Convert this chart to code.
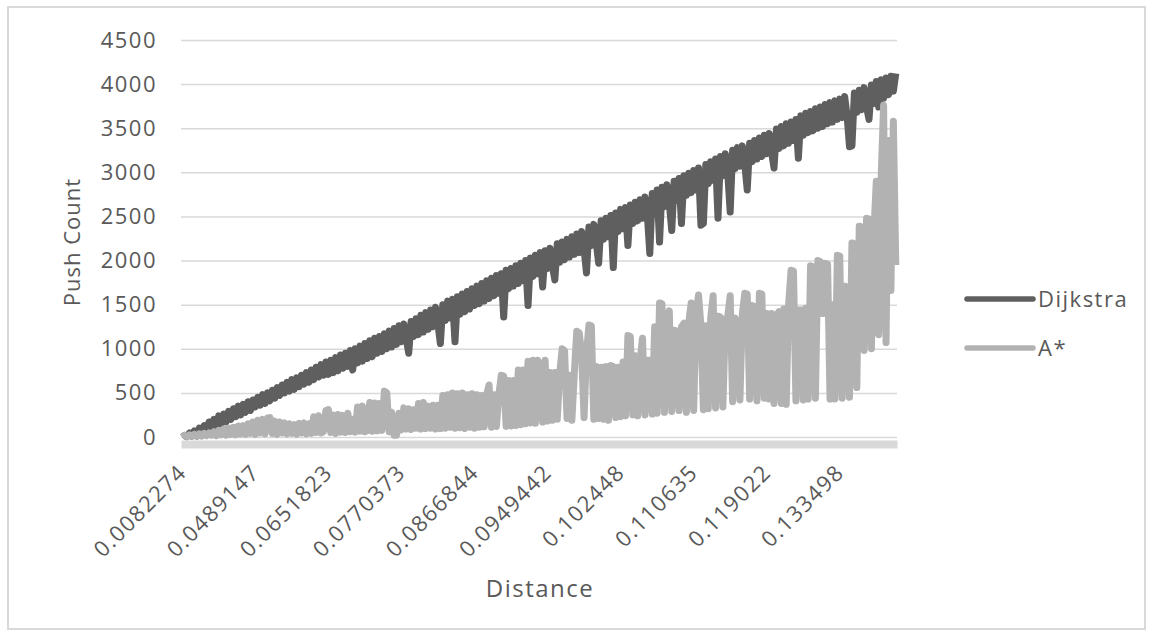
<!DOCTYPE html>
<html>
<head>
<meta charset="utf-8">
<script src="https://cdn.jsdelivr.net/npm/d3@7"></script>
<style>
  body { margin: 0; background: #fff; }
  text { font-family: 'Open Sans', sans-serif; fill: #595959; }
</style>
</head>
<body>
<div id="chart"></div>
<script>
// Category axis labels (shown every 30th distance)
const categoryLabels = ['0.0082274', '0.0489147', '0.0651823', '0.0770373', '0.0866844',
  '0.0949442', '0.102448', '0.110635', '0.119022', '0.133498'];
const labelEvery = 30;
const yTicks = [0, 500, 1000, 1500, 2000, 2500, 3000, 3500, 4000, 4500];

// Push counts
const dijkstra = [
  0, 20, 5, 45, 10, 70, 20, 100, 40, 130,
  60, 170, 90, 200, 110, 240, 150, 260, 170, 290,
  200, 320, 230, 350, 250, 370, 280, 400, 300, 420,
  340, 450, 360, 480, 380, 500, 410, 530, 440, 560,
  470, 590, 500, 620, 520, 650, 540, 670, 570, 700,
  600, 730, 620, 760, 650, 790, 680, 820, 700, 850,
  710, 870, 730, 900, 750, 930, 780, 950, 800, 980,
  760, 1000, 840, 1030, 860, 1060, 890, 1090, 910, 1120,
  950, 1140, 970, 1170, 1000, 1200, 1020, 1230, 1050, 1260,
  1080, 1280, 1110, 950, 1310, 1140, 1340, 1160, 1380, 1190,
  1410, 1220, 1440, 1250, 1470, 1280, 1060, 1500, 1320, 1540,
  1350, 1560, 1080, 1590, 1390, 1620, 1420, 1650, 1450, 1680,
  1490, 1710, 1510, 1740, 1540, 1770, 1570, 1800, 1600, 1830,
  1630, 1850, 1360, 1890, 1680, 1910, 1710, 1940, 1740, 1970,
  1770, 2000, 1490, 2030, 1820, 2060, 1850, 2090, 1700, 2110,
  1910, 2140, 1940, 1780, 2190, 1980, 2210, 2010, 2240, 2040,
  2270, 2070, 2300, 2090, 2330, 2130, 1860, 2380, 2170, 2410,
  2200, 1970, 2450, 2240, 2480, 2270, 2510, 1920, 2540, 2330,
  2580, 2360, 2600, 2170, 2630, 2420, 2660, 2450, 2690, 2480,
  2720, 2510, 2080, 2760, 2550, 2800, 2210, 2830, 2610, 2860,
  2650, 2340, 2900, 2680, 2930, 2420, 2960, 2740, 2990, 2770,
  3020, 2800, 3050, 2400, 2420, 3090, 2870, 3120, 2910, 3150,
  2480, 3180, 2960, 3210, 2990, 2550, 3250, 3040, 3280, 3070,
  3300, 3090, 2800, 3330, 3120, 3360, 3150, 3390, 3180, 3420,
  3210, 3440, 3230, 3050, 3490, 3270, 3520, 3300, 3550, 3330,
  3570, 3360, 3600, 3160, 3640, 3420, 3670, 3450, 3690, 3470,
  3720, 3500, 3740, 3520, 3770, 3550, 3790, 3570, 3810, 3600,
  3830, 3620, 3860, 3640, 3290, 3300, 3900, 3680, 3930, 3710,
  3960, 3740, 3600, 3990, 3780, 4030, 3740, 4050, 3840, 4070,
  3880, 4090, 3920, 4120
];
const aStar = [
  0, 20, 5, 25, 10, 30, 5, 35, 10, 40,
  15, 45, 20, 60, 15, 75, 25, 90, 20, 100,
  30, 110, 25, 125, 35, 130, 30, 150, 40, 170,
  30, 190, 45, 200, 35, 215, 220, 40, 180, 30,
  170, 45, 160, 35, 150, 40, 140, 30, 155, 45,
  160, 35, 150, 40, 230, 50, 240, 45, 60, 300,
  310, 50, 250, 40, 255, 55, 245, 50, 270, 60,
  200, 55, 340, 65, 350, 60, 70, 390, 65, 385,
  70, 380, 75, 520, 500, 60, 280, 20, 20, 270,
  80, 330, 90, 320, 85, 310, 100, 380, 90, 390,
  95, 350, 100, 360, 90, 360, 95, 470, 100, 480,
  110, 500, 100, 490, 105, 500, 95, 480, 110, 490,
  100, 480, 110, 470, 115, 480, 590, 110, 480, 120,
  470, 700, 690, 120, 640, 125, 640, 130, 760, 140,
  760, 150, 860, 160, 870, 155, 870, 750, 170, 870,
  180, 730, 190, 730, 200, 720, 1000, 980, 210, 700,
  190, 720, 1200, 1180, 950, 220, 950, 1270, 1260, 200,
  800, 210, 790, 200, 800, 190, 810, 800, 220, 790,
  230, 850, 240, 1150, 1140, 250, 920, 240, 860, 1120,
  250, 870, 870, 260, 1250, 270, 1520, 1510, 280, 1300,
  1430, 290, 1210, 1200, 300, 1250, 1290, 280, 1300, 1520,
  300, 1400, 1610, 1260, 310, 1260, 320, 1350, 1600, 330,
  1370, 1360, 340, 1300, 1370, 1600, 400, 1350, 1260, 420,
  1400, 1630, 1620, 430, 1490, 1480, 410, 1630, 1620, 440,
  1400, 430, 1400, 380, 1380, 1420, 380, 1450, 370, 1500,
  1890, 1880, 410, 1440, 1440, 420, 1460, 430, 1940, 1930,
  440, 2000, 1990, 1400, 1970, 1960, 430, 1500, 430, 2060,
  2050, 440, 1710, 1700, 450, 2200, 2190, 560, 2390, 2380,
  980, 2480, 2470, 1000, 2310, 2900, 1160, 2950, 3760, 1070,
  3360, 1660, 3580, 1950
];

const seriesNames = ['Dijkstra', 'A*'];
const seriesColors = ['#5f5f5f', '#b2b2b2'];
const seriesWidths = [7, 7];

PushChart = function(_parentElement) {
  this.parentElement = _parentElement;
  this.initVis();
};

PushChart.prototype.initVis = function() {
  let vis = this;

  vis.margin = { left: 181, right: 256, top: 40, bottom: 200 };
  vis.outerWidth = 1153;
  vis.outerHeight = 637;
  vis.width = vis.outerWidth - vis.margin.left - vis.margin.right;
  vis.height = vis.outerHeight - vis.margin.top - vis.margin.bottom;

  vis.svg = d3
    .select(vis.parentElement)
    .append('svg')
    .attr('width', vis.outerWidth)
    .attr('height', vis.outerHeight);

  // chart border
  vis.svg
    .append('rect')
    .attr('x', 8)
    .attr('y', 7)
    .attr('width', 1137)
    .attr('height', 622)
    .attr('fill', 'none')
    .attr('stroke', '#d9d9d9')
    .attr('stroke-width', 2);

  vis.g = vis.svg
    .append('g')
    .attr('transform', 'translate(' + vis.margin.left + ', ' + vis.margin.top + ')');

  // Scales
  vis.x = d3
    .scaleBand()
    .domain(d3.range(dijkstra.length))
    .range([0, vis.width]);
  vis.y = d3
    .scaleLinear()
    .domain([0, 4500])
    .range([vis.height, 0]);

  // Y-axis with gridlines
  vis.yAxisCall = d3
    .axisLeft(vis.y)
    .tickValues(yTicks)
    .tickFormat(d3.format('d'))
    .tickSize(-vis.width)
    .tickPadding(24);
  vis.yAxis = vis.g
    .append('g')
    .attr('class', 'y axis')
    .call(vis.yAxisCall);
  vis.yAxis.select('.domain').remove();
  vis.yAxis
    .selectAll('line')
    .attr('stroke', '#d9d9d9')
    .attr('stroke-width', 1.5);
  vis.yAxis
    .selectAll('text')
    .attr('font-size', '22px')
    .style('letter-spacing', '1.5px');

  // X-axis (the wide light bar under the plot)
  const labelIdx = categoryLabels.map((d, i) => i * labelEvery);
  vis.xAxisCall = d3
    .axisBottom(vis.x)
    .tickValues(labelIdx)
    .tickSize(0)
    .tickFormat((d, i) => categoryLabels[i]);
  vis.xAxis = vis.g
    .append('g')
    .attr('class', 'x axis')
    .attr('transform', 'translate(0,' + (vis.height + 7) + ')')
    .call(vis.xAxisCall);
  vis.xAxis
    .select('.domain')
    .attr('stroke', '#d9d9d9')
    .attr('stroke-width', 8);
  vis.xAxis
    .selectAll('text')
    .attr('font-size', '22px')
    .style('letter-spacing', '1.5px')
    .attr('text-anchor', 'end')
    .attr('x', -17)
    .attr('y', 25)
    .attr('dy', 0)
    .attr('transform', 'rotate(-45)');

  // Axis titles
  vis.g
    .append('text')
    .attr('x', 359)
    .attr('y', 557)
    .attr('font-size', '24px')
    .style('letter-spacing', '1.5px')
    .attr('text-anchor', 'middle')
    .text('Distance');
  vis.g
    .append('text')
    .attr('transform', 'rotate(-90)')
    .attr('x', -202)
    .attr('y', -109)
    .attr('dy', '0.35em')
    .attr('font-size', '22px')
    .style('letter-spacing', '1px')
    .attr('text-anchor', 'middle')
    .text('Push Count');

  vis.series = [dijkstra, aStar];
  vis.updateVis();
};

PushChart.prototype.updateVis = function() {
  let vis = this;

  const line = d3
    .line()
    .x((d, i) => vis.x(i) + vis.x.bandwidth() / 2)
    .y(d => vis.y(d));

  vis.series.forEach((values, s) => {
    vis.g
      .append('path')
      .attr('class', 'line')
      .attr('fill', 'none')
      .attr('stroke', seriesColors[s])
      .attr('stroke-width', seriesWidths[s])
      .attr('stroke-linejoin', 'round')
      .attr('d', line(values));
  });

  // Legend
  const legend = vis.g
    .append('g')
    .attr('transform', 'translate(' + (vis.width + 70) + ',' + 259 + ')');
  seriesNames.forEach((name, s) => {
    const row = legend.append('g').attr('transform', 'translate(0,' + s * 49 + ')');
    row
      .append('line')
      .attr('x1', 0)
      .attr('x2', 66)
      .attr('stroke', seriesColors[s])
      .attr('stroke-width', 5.5)
      .attr('stroke-linecap', 'round');
    row
      .append('text')
      .attr('x', 71)
      .attr('dy', '0.35em')
      .attr('font-size', '22px')
      .style('letter-spacing', '1.5px')
      .text(name);
  });
};

new PushChart('#chart');
</script>
</body>
</html>
